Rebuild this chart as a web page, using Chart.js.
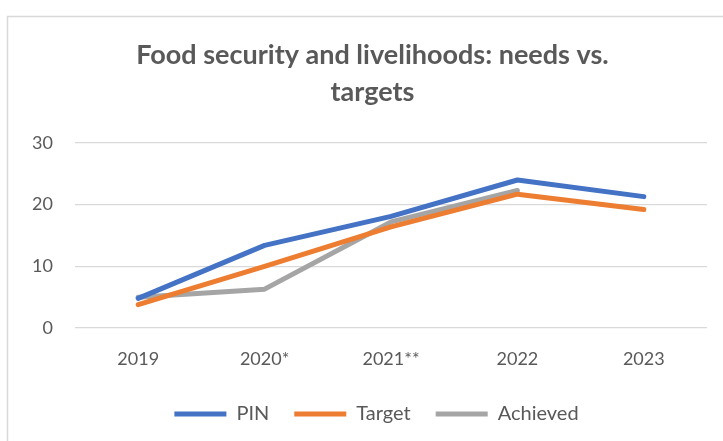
<!DOCTYPE html>
<html>
<head>
<meta charset="utf-8">
<script src="https://cdn.jsdelivr.net/npm/chart.js@4.4.1/dist/chart.umd.min.js"></script>
<style>
  html, body { margin: 0; padding: 0; background: #fff; }
  #wrap { width: 723px; height: 441px; position: relative; }
</style>
</head>
<body>
<div id="wrap"><canvas id="fslChart" width="723" height="441"></canvas></div>
<script>
// chart data
const years = ['2019', '2020*', '2021**', '2022', '2023'];
const pinValues = [4.8, 13.4, 18.1, 24.0, 21.3];
const targetValues = [3.8, 10.0, 16.4, 21.7, 19.2];
const achievedValues = [5.0, 6.3, 17.2, 22.3, null];
const yTicks = [0, 10, 20, 30];

const textGrey = '#595959';
const fontFamily = "Lato, 'Open Sans', sans-serif";

// light frame round the chart, like the spreadsheet chart box
const framePlugin = {
  id: 'frame',
  beforeDraw(chart) {
    const c = chart.ctx;
    c.save();
    c.strokeStyle = '#d9d9d9';
    c.lineWidth = 1.5;
    c.beginPath();
    c.moveTo(7.5, chart.height);
    c.lineTo(7.5, 16.5);
    c.lineTo(chart.width, 16.5);
    c.stroke();
    c.restore();
  }
};

// the frame runs past the right edge, so title and legend sit right of centre
const nudgePlugin = {
  id: 'nudge',
  afterLayout(chart) {
    if (chart.titleBlock) chart.titleBlock.left += 38;
    if (chart.legend) chart.legend.left += 46;
  }
};

function lineSet(label, data, color) {
  return {
    label: label,
    data: data,
    borderColor: color,
    backgroundColor: color,
    borderWidth: 5,
    pointRadius: 0,
    pointHoverRadius: 0,
    tension: 0,
    borderCapStyle: 'round',
    borderJoinStyle: 'round',
    spanGaps: false
  };
}

const ctx = document.getElementById('fslChart').getContext('2d');
new Chart(ctx, {
  type: 'line',
  data: {
    labels: years,
    datasets: [
      lineSet('PIN', pinValues, '#4472C4'),
      lineSet('Target', targetValues, '#ED7D31'),
      lineSet('Achieved', achievedValues, '#A5A5A5')
    ]
  },
  plugins: [framePlugin, nudgePlugin],
  options: {
    responsive: false,
    animation: false,
    layout: {
      padding: { left: 0, right: 16, top: 0, bottom: 7 }
    },
    scales: {
      x: {
        offset: true,
        afterFit(scale) { scale.height = 51; },
        grid: { display: false, drawTicks: false },
        border: { display: false },
        ticks: {
          color: textGrey,
          padding: 20,
          font: { family: fontFamily, size: 18 }
        }
      },
      y: {
        min: 0,
        max: 30,
        afterFit(scale) { scale.width = 75; },
        afterBuildTicks(scale) {
          scale.ticks = yTicks.map(v => ({ value: v }));
        },
        grid: { color: '#d9d9d9', lineWidth: 1.2, drawTicks: false },
        border: { display: false },
        ticks: {
          color: textGrey,
          padding: 22,
          font: { family: fontFamily, size: 18 }
        }
      }
    },
    plugins: {
      title: {
        display: true,
        text: ['Food security and livelihoods: needs vs.', 'targets'],
        color: textGrey,
        font: { family: fontFamily, size: 27, weight: 'bold', lineHeight: 1.37 },
        padding: { top: 37, bottom: 32 }
      },
      legend: {
        position: 'bottom',
        labels: {
          usePointStyle: true,
          pointStyle: 'line',
          pointStyleWidth: 52,
          color: textGrey,
          padding: 25,
          font: { family: fontFamily, size: 20 }
        }
      },
      tooltip: { enabled: false }
    }
  }
});
</script>
</body>
</html>
